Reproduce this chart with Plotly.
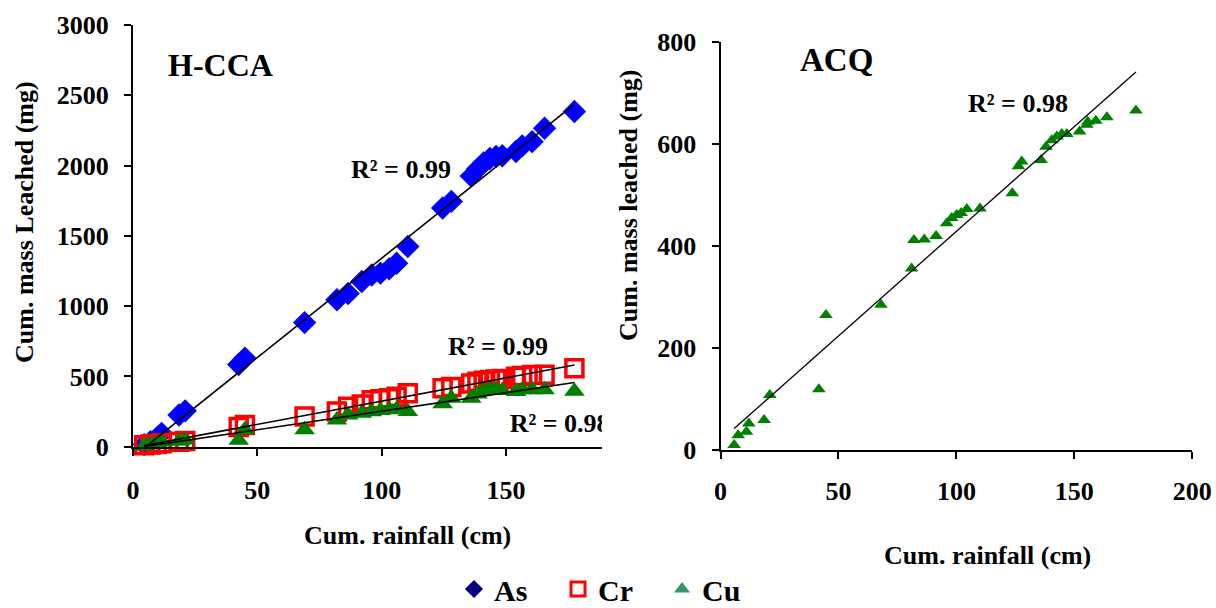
import numpy as np
import plotly.graph_objects as go

# ---------------- data ----------------
# H-CCA panel (shared cumulative rainfall, cm)
rain_hcca = [4.5, 7, 9.5, 11.5, 18.5, 21, 42.5, 45, 69, 82, 86.5, 92, 96, 99.5, 103,
             106, 110.5, 124.5, 128, 136, 138.5, 141, 143.5, 146, 148.5, 154, 156.5,
             160.5, 165.5, 177.5]
as_hcca = [15, 35, 60, 95, 225, 255, 585, 630, 883, 1045, 1090, 1175, 1222, 1235, 1265,
           1305, 1424, 1698, 1745, 1925, 1975, 2018, 2050, 2065, 2070, 2100, 2140,
           2170, 2265, 2385]
cr_hcca = [10, 15, 20, 25, 35, 40, 140, 155, 215, 250, 285, 300, 330, 338, 345,
           355, 380, 415, 425, 450, 462, 470, 475, 478, 482, 498, 503,
           510, 512, 558]
cu_hcca = [5, 15, 25, 35, 38, 48, 45, 120, 120, 190, 225, 238, 248, 258, 262,
           265, 250, 305, 345, 345, 375, 400, 405, 405, 400, 392, 405,
           405, 405, 395]

# ACQ panel
rain_acq = [5.8, 7.5, 11, 12, 18.5, 20.9, 41.7, 44.7, 68, 81, 82, 86.4, 91.4, 95.9,
            98, 100.1, 102, 104.4, 110, 123.7, 126.3, 127.7, 135.9, 138, 140.4, 142.6,
            144.7, 146.8, 152.2, 155.3, 155.7, 159.1, 163.8, 176.1]
cu_acq = [10, 29, 36, 52, 59, 108, 119, 265, 285, 356, 412, 413, 420, 445,
          455, 461, 465, 473, 474, 504, 557, 566, 569, 595, 608, 615,
          620, 620, 625, 638, 644, 646, 653, 666]

r2_labels = {"As": "R² = 0.99", "Cr": "R² = 0.99", "Cu": "R² = 0.98", "ACQ": "R² = 0.98"}
legend_names = ["As", "Cr", "Cu"]

# ---------------- styling ----------------
FONT = "Liberation Serif"
W, H = 1216, 608

def px_x(p):
    return p / W

def px_y(p):
    return 1 - p / H

fig = go.Figure()

def trend(x, y):
    x = np.asarray(x, float)
    y = np.asarray(y, float)
    m, b = np.polyfit(x, y, 1)
    xs = np.array([x.min(), x.max()])
    return xs, m * xs + b

# Left panel markers
fig.add_trace(go.Scatter(x=rain_hcca, y=as_hcca, mode="markers", xaxis="x", yaxis="y",
                         marker=dict(symbol="diamond", size=18, color="#0000FF"),
                         showlegend=False, cliponaxis=False))
fig.add_trace(go.Scatter(x=rain_hcca, y=cr_hcca, mode="markers", xaxis="x", yaxis="y",
                         marker=dict(symbol="square-open", size=17, color="#FF0000",
                                     line=dict(width=3.5, color="#FF0000")),
                         showlegend=False, cliponaxis=False))
fig.add_trace(go.Scatter(x=rain_hcca, y=cu_hcca, mode="markers", xaxis="x", yaxis="y",
                         marker=dict(symbol="triangle-up", size=18, color="#008000"),
                         showlegend=False, cliponaxis=False))
for ys in (as_hcca, cr_hcca, cu_hcca):
    tx, ty = trend(rain_hcca, ys)
    fig.add_trace(go.Scatter(x=tx, y=ty, mode="lines", xaxis="x", yaxis="y",
                             line=dict(color="black", width=1.6), showlegend=False,
                             hoverinfo="skip"))

# Right panel
fig.add_trace(go.Scatter(x=rain_acq, y=cu_acq, mode="markers", xaxis="x2", yaxis="y2",
                         marker=dict(symbol="triangle-up", size=12, color="#008000"),
                         showlegend=False, cliponaxis=False))
tx, ty = trend(rain_acq, cu_acq)
fig.add_trace(go.Scatter(x=tx, y=ty, mode="lines", xaxis="x2", yaxis="y2",
                         line=dict(color="black", width=1.3), showlegend=False,
                         hoverinfo="skip"))

# Clipped Cu R² label in left panel (cut at plot edge like the original)
fig.add_trace(go.Scatter(x=[151.5], y=[150], mode="text", text=[r2_labels["Cu"]],
                         textposition="middle right", xaxis="x", yaxis="y",
                         textfont=dict(family=FONT, size=26, color="black", weight="bold"),
                         cliponaxis=True, showlegend=False, hoverinfo="skip"))

# Legend entries
leg_colors = ["#000080", "#FF0000", "#339966"]
leg_symbols = ["diamond", "square-open", "triangle-up"]
for name, col, sym in zip(legend_names, leg_colors, leg_symbols):
    fig.add_trace(go.Scatter(x=[None], y=[None], mode="markers", name=name,
                             xaxis="x", yaxis="y",
                             marker=dict(symbol=sym, size=14, color=col,
                                         line=dict(width=3 if sym == "square-open" else 0,
                                                   color=col))))

axis_common = dict(showline=True, linecolor="black", linewidth=2, ticks="outside",
                   ticklen=7, tickwidth=2, tickcolor="black", showgrid=False,
                   zeroline=False, automargin=False,
                   tickfont=dict(family=FONT, size=26, color="black", weight="bold"))

fig.update_layout(
    width=W, height=H,
    margin=dict(l=0, r=0, t=0, b=0, autoexpand=False),
    paper_bgcolor="white", plot_bgcolor="white",
    font=dict(family=FONT, color="black"),
    xaxis=dict(domain=[px_x(133), px_x(602)], range=[0, 188.6], dtick=50,
               anchor="y", ticklabelstandoff=12, **axis_common),
    yaxis=dict(domain=[px_y(446.7), px_y(25)], range=[0, 3000], dtick=500,
               anchor="x", ticklabelstandoff=10, **axis_common),
    xaxis2=dict(domain=[px_x(720.5), px_x(1192.3)], range=[0, 200], dtick=50,
                anchor="y2", ticklabelstandoff=10, **axis_common),
    yaxis2=dict(domain=[px_y(450), px_y(42.3)], range=[0, 800], dtick=200,
                anchor="x2", ticklabelstandoff=10, **axis_common),
    legend=dict(orientation="h", x=px_x(454), xanchor="left", y=px_y(589),
                yanchor="middle", font=dict(family=FONT, size=30, color="black", weight="bold"),
                entrywidth=59, entrywidthmode="pixels", itemsizing="trace",
                bgcolor="rgba(0,0,0,0)"),
    showlegend=True,
)

def ann(text, x, y, size, angle=0, xanchor="center"):
    fig.add_annotation(text=text, x=px_x(x), y=px_y(y), xref="paper", yref="paper",
                       showarrow=False, textangle=angle, xanchor=xanchor, yanchor="middle",
                       font=dict(family=FONT, size=size, color="black", weight="bold"))

ann("Cum. mass Leached (mg)", 25, 222, 26, angle=-90)
ann("Cum. mass leached (mg)", 628, 205, 26, angle=-90)
ann("Cum. rainfall (cm)", 407.5, 535, 26)
ann("Cum. rainfall (cm)", 987.5, 555, 26)
ann("H-CCA", 220.7, 65, 32)
ann("ACQ", 836.7, 60, 33)
ann(r2_labels["As"], 400.7, 170, 26)
ann(r2_labels["Cr"], 498.3, 346, 26)
ann(r2_labels["ACQ"], 1018.3, 103.3, 26)

fig.write_html("out.html", config={"displayModeBar": False},
               post_script="document.body.style.margin='0';")
